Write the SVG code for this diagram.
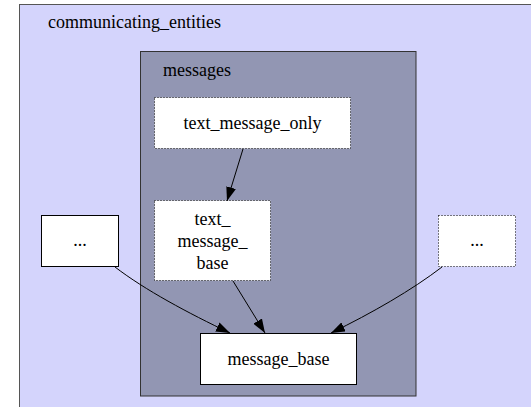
<svg xmlns="http://www.w3.org/2000/svg" width="531" height="407" viewBox="0 0 531 407">
<style>
text{font-family:'Liberation Serif','Times New Roman',Times,serif;font-size:18px;fill:#000}
.c{text-anchor:middle}
.node{fill:#fff;stroke:#000;stroke-width:1}
.dot{stroke-dasharray:1,2}
.edge{fill:none;stroke:#000;stroke-width:1}
</style>
<defs>
<marker id="arr" viewBox="0 0 14 10" refX="14" refY="5" markerWidth="14" markerHeight="10" markerUnits="userSpaceOnUse" orient="auto">
<path d="M0,0 L14,5 L0,10 Z" fill="#000"/>
</marker>
</defs>
<rect width="531" height="407" fill="#fff"/>
<g id="communicating_entities">
<rect x="19.5" y="4.5" width="520" height="410" fill="#d4d4fc" stroke="#555"/>
<text x="48" y="28">communicating_entities</text>
</g>
<g id="messages">
<rect x="140.5" y="51.5" width="275.5" height="344.5" fill="#9296b3" stroke="#333"/>
<text x="163" y="76">messages</text>
</g>
<g id="text_message_only">
<rect class="node dot" x="154.5" y="97.5" width="196" height="51"/>
<text class="c" x="252.5" y="129">text_message_only</text>
</g>
<g id="text_message_base">
<rect class="node dot" x="154.5" y="200.5" width="116" height="80"/>
<text class="c" x="212.5" y="225">text_</text>
<text class="c" x="212.5" y="247">message_</text>
<text class="c" x="212.5" y="269">base</text>
</g>
<g id="left_dots">
<rect class="node" x="41.5" y="215.5" width="77" height="51"/>
<text class="c" x="80" y="246">...</text>
</g>
<g id="right_dots">
<rect class="node dot" x="438.5" y="215.5" width="77" height="51"/>
<text class="c" x="477" y="246">...</text>
</g>
<g id="message_base">
<rect class="node" x="200.5" y="333.5" width="156" height="51"/>
<text class="c" x="278.5" y="365">message_base</text>
</g>
<g id="edges">
<path class="edge" marker-end="url(#arr)" d="M243,149 L227,201"/>
<path class="edge" marker-end="url(#arr)" d="M233,281 L265,333"/>
<path class="edge" marker-end="url(#arr)" d="M115,267 C145,290 188,313 230,333"/>
<path class="edge" marker-end="url(#arr)" d="M442,267 C412,290 372,313 331,333"/>
</g>
</svg>
